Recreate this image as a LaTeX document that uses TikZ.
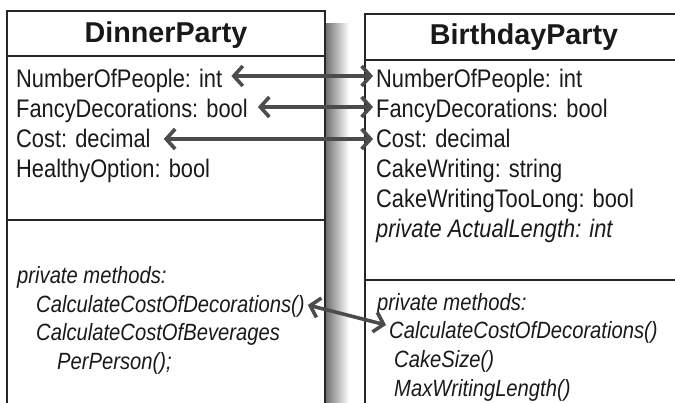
\documentclass[tikz,border=0pt]{standalone}
\usepackage{fontspec}
\setmainfont{Liberation Sans}
\newfontfamily\narrowsans{Liberation Sans}[FakeStretch=0.86]
\usetikzlibrary{arrows.meta}

\tikzset{
  classline/.style={line width=1.8pt,draw=black!85},
  classtitle/.style={anchor=base,inner sep=0pt,text=black!90,
    font=\fontsize{28.7}{34}\selectfont\bfseries},
  attr/.style={anchor=base west,inner sep=0pt,text=black!90,
    font=\narrowsans\fontsize{25.4}{29}\selectfont},
  meth/.style={anchor=base west,inner sep=0pt,text=black!90,
    font=\narrowsans\fontsize{23.5}{28}\selectfont\itshape},
  link/.style={{Straight Barb[length=9pt,width=20pt]}-{Straight Barb[length=9pt,width=20pt]},
    line width=3.6pt,draw=black!70}
}

\begin{document}
\begin{tikzpicture}[x=1pt,y=-1pt]
    \useasboundingbox (0,0) rectangle (675,403);
    % --- shadow on the right of the first class
    \shade[left color=black!55,right color=white] (326,24) rectangle (349,403);
    % --- left class : DinnerParty
    \begin{scope}
      \draw[classline] (7,403) -- (7,11) -- (325,11) -- (325,403);
      \draw[classline] (7,56) -- (325,56);
      \draw[classline] (7,220) -- (325,220);
      \node[classtitle] (dpTitle) at (166,43) {DinnerParty};
      \node[attr] (dpNum) at (16,88) {NumberOfPeople: int};
      \node[attr] (dpFancy) at (16,118) {FancyDecorations: bool};
      \node[attr] (dpCost) at (16,148) {Cost: decimal};
      \node[attr] (dpHealthy) at (16,178) {HealthyOption: bool};
      \node[meth] (dpPriv) at (17,284) {private methods:};
      \node[meth] (dpDecor) at (36,313) {CalculateCostOfDecorations()};
      \node[meth] (dpBev) at (36,341) {CalculateCostOfBeverages};
      \node[meth] (dpPer) at (57,370) {PerPerson();};
    \end{scope}
    % --- right class : BirthdayParty
    \begin{scope}
      \draw[classline] (365,403) -- (365,14) -- (675,14);
      \draw[classline] (365,60) -- (675,60);
      \draw[classline] (365,280) -- (675,280);
      \node[classtitle] (bpTitle) at (524,45) {BirthdayParty};
      \node[attr] (bpNum) at (376,88) {NumberOfPeople: int};
      \node[attr] (bpFancy) at (376,118) {FancyDecorations: bool};
      \node[attr] (bpCost) at (376,148) {Cost: decimal};
      \node[attr] (bpCake) at (376,178) {CakeWriting: string};
      \node[attr] (bpTooLong) at (376,208) {CakeWritingTooLong: bool};
      \node[attr,font=\narrowsans\fontsize{25.4}{29}\selectfont\itshape] (bpActual) at (376,238) {private ActualLength: int};
      \node[meth] (bpPriv) at (377,311) {private methods:};
      \node[meth] (bpDecor) at (389,339) {CalculateCostOfDecorations()};
      \node[meth] (bpSize) at (394,368) {CakeSize()};
      \node[meth] (bpMax) at (394,396) {MaxWritingLength()};
    \end{scope}
    % --- matching members
    \draw[link] ([shift={(9,-12)}]dpNum.base east) -- ([shift={(-3,-12)}]bpNum.base west);
    \draw[link] ([shift={(10,-11)}]dpFancy.base east) -- ([shift={(-3,-11)}]bpFancy.base west);
    \draw[link] ([shift={(13,-9)}]dpCost.base east) -- ([shift={(-3,-9)}]bpCost.base west);
    \draw[link] ([shift={(3,-8)}]dpDecor.base east) -- ([shift={(-3,-14)}]bpDecor.base west);
\end{tikzpicture}
\end{document}
